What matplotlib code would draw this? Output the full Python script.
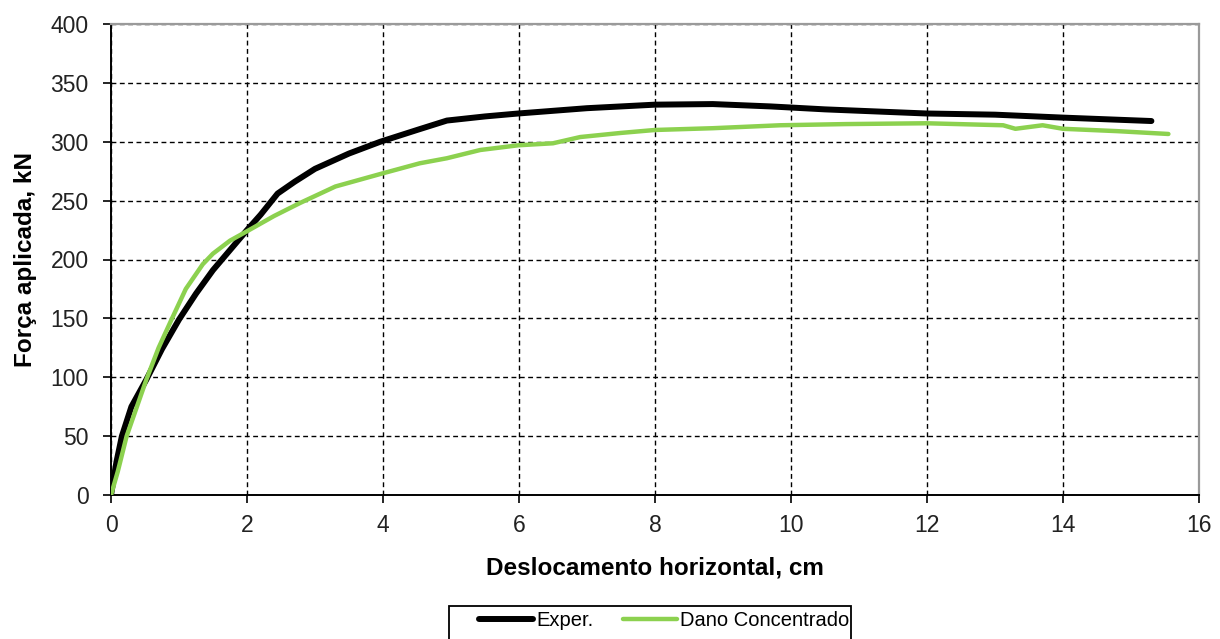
"""
Courbe force-deplacement : essai experimental vs modele a dano concentrado.
"""

import matplotlib
matplotlib.use("Agg")
import matplotlib.pyplot as plt
from matplotlib.patches import Rectangle

# valeurs (cm, kN)
exper_x = [0.0, 0.08, 0.16, 0.30, 0.52, 0.75, 1.0, 1.25, 1.5, 1.75, 2.0,
           2.2, 2.45, 2.7, 3.0, 3.5, 3.96, 4.5, 4.94, 5.5, 5.99, 7.0,
           8.0, 8.85, 9.7, 10.5, 11.99, 13.0, 14.0, 15.3]
exper_y = [0.0, 28.0, 50.0, 75.0, 98.0, 124.0, 149.0, 171.0, 191.0, 208.0, 225.0,
           238.0, 256.0, 266.0, 277.0, 290.0, 300.0, 310.0, 318.0, 321.5, 324.0, 328.5,
           331.5, 332.0, 330.0, 327.5, 324.0, 323.0, 320.5, 317.6]

dano_x = [0.0, 0.1, 0.23, 0.52, 0.7, 0.89, 1.1, 1.35, 1.5, 1.75, 2.0, 2.4, 2.78,
          3.3, 3.96, 4.54, 4.94, 5.43, 5.99, 6.5, 6.9, 7.5, 8.0, 8.85,
          9.84, 10.8, 11.99, 13.12, 13.3, 13.7, 14.0, 14.8, 15.55]
dano_y = [0.0, 20.0, 50.0, 98.0, 125.0, 149.0, 175.0, 196.0, 205.0, 216.0, 224.0, 237.0, 248.0,
          262.0, 272.6, 281.7, 286.0, 293.0, 297.0, 298.7, 304.0, 307.5, 310.0, 311.5,
          314.0, 315.0, 315.7, 314.0, 311.0, 314.0, 311.0, 309.0, 306.6]

x_ticks = list(range(0, 17, 2))
y_ticks = list(range(0, 401, 50))

plt.rcParams["font.family"] = ["Liberation Sans", "DejaVu Sans"]

W, H = 1220, 639
fig = plt.figure(figsize=(W / 100, H / 100), dpi=100)
ax = fig.add_axes([111 / W, 1 - 495 / H, (1199 - 111) / W, (495 - 24) / H])

ax.plot(exper_x, exper_y, color="black", lw=4.3, solid_capstyle="round",
        solid_joinstyle="round", label="Exper.", zorder=3)
ax.plot(dano_x, dano_y, color="#8cd14f", lw=3.2, solid_capstyle="round",
        solid_joinstyle="round", label="Dano Concentrado", zorder=4)

ax.set_xlim(0, 16)
ax.set_ylim(0, 400)
ax.set_xticks(x_ticks)
ax.set_yticks(y_ticks)
ax.tick_params(direction="out", length=6, width=1.2, labelsize=16.5,
               colors="black", labelcolor="#222222")
ax.tick_params(axis="y", pad=10)
ax.tick_params(axis="x", pad=8)
ax.grid(True, color="black", ls=(0, (3.5, 2.5)), lw=1.0)
ax.set_axisbelow(True)

for s in ("left", "bottom"):
    ax.spines[s].set_color("black")
    ax.spines[s].set_linewidth(1.4)
for s in ("top", "right"):
    ax.spines[s].set_color("#9a9a9a")
    ax.spines[s].set_linewidth(1.6)

ax.set_xlabel("Deslocamento horizontal, cm", fontsize=17.5, fontweight="bold",
              labelpad=14)
ax.set_ylabel("Força aplicada, kN", fontsize=17.5, fontweight="bold", labelpad=10)

# legende sans cadre + cadre dessine a part (coupe en bas comme l'original)
leg = fig.legend(loc="upper left", bbox_to_anchor=(479 / W, 1 - 611 / H),
                 ncol=2, fontsize=14.5, frameon=False,
                 handlelength=2.7, handletextpad=0.15, columnspacing=1.45,
                 borderpad=0, borderaxespad=0)
fig.add_artist(Rectangle((449 / W, 1 - 646 / H), (851 - 449) / W, 40 / H,
                         transform=fig.transFigure, fill=False,
                         edgecolor="black", lw=1.3, clip_on=False))

fig.savefig("out.png", dpi=100)
